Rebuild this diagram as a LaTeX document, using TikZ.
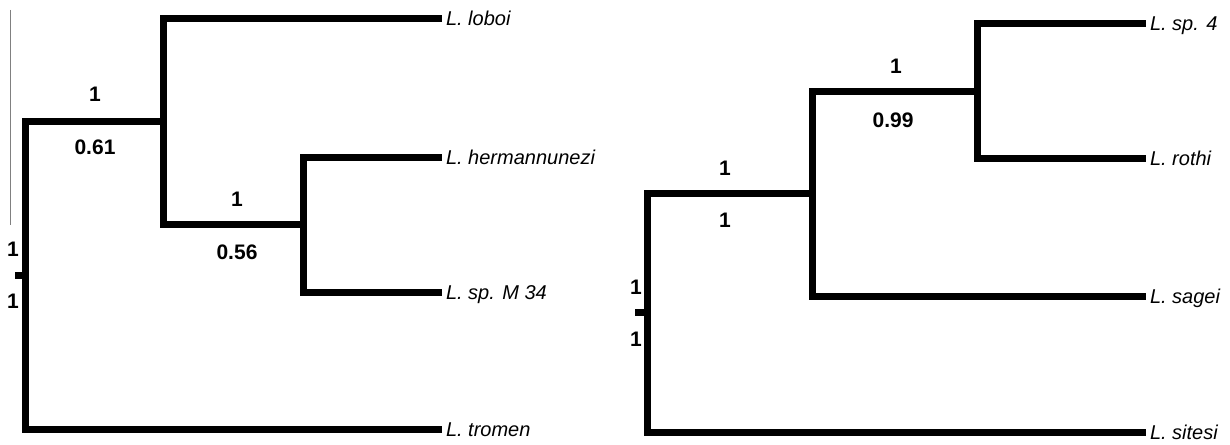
\documentclass[tikz,border=0pt]{standalone}
\usepackage{fontspec}
\setmainfont{Liberation Sans}
\begin{document}
\begin{tikzpicture}[x=1pt,y=-1pt,
  br/.style={line width=7pt,line join=miter,black},
  leaf/.style={anchor=west,inner sep=0pt,outer sep=4pt,text height=14pt,text depth=0pt,font=\fontsize{20}{22}\selectfont\itshape},
  sup/.style={inner sep=0pt,font=\fontsize{21}{23}\selectfont\bfseries}]
\useasboundingbox (0,0) rectangle (1230,444);
% thin gray line
\coordinate (g1) at (10,10);
\coordinate (g2) at (10,225);
\draw[gray,line width=1pt] (g1) -- (g2);
% ---------- left tree ----------
\node[leaf] (loboi) at (442,19) {L. loboi};
\node[leaf] (herm) at (442,157) {L. hermannunezi};
\node[leaf] (spm) at (442,292) {L. sp. M 34};
\node[leaf] (tromen) at (442,429) {L. tromen};
\coordinate (rootL) at (25,275);
\coordinate (stubL) at (15,275);
\coordinate (a) at (163,121);
\coordinate (b) at (303,224.5);
\draw[br] (stubL) -- (rootL);
\draw[br] (rootL) |- (a);
\draw[br] (rootL) |- (tromen.west);
\draw[br] (a) |- (loboi.west);
\draw[br] (a) |- (b);
\draw[br] (b) |- (herm.west);
\draw[br] (b) |- (spm.west);
\node[sup] (l1) at (13,249) {1};
\node[sup] (l2) at (13,301) {1};
\node[sup] (l3) at (95,94) {1};
\node[sup] (l4) at (95,147) {0.61};
\node[sup] (l5) at (237,199) {1};
\node[sup] (l6) at (237,252) {0.56};
% ---------- right tree ----------
\node[leaf] (sp4) at (1146,24) {L. sp. 4};
\node[leaf] (rothi) at (1146,158) {L. rothi};
\node[leaf] (sagei) at (1146,296) {L. sagei};
\node[leaf] (sitesi) at (1146,432) {L. sitesi};
\coordinate (rootR) at (647,312.5);
\coordinate (stubR) at (635,312.5);
\coordinate (c) at (977,91);
\coordinate (d) at (812,193);
\draw[br] (stubR) -- (rootR);
\draw[br] (rootR) |- (d);
\draw[br] (rootR) |- (sitesi.west);
\draw[br] (d) |- (c);
\draw[br] (d) |- (sagei.west);
\draw[br] (c) |- (sp4.west);
\draw[br] (c) |- (rothi.west);
\node[sup] (r1) at (636,287) {1};
\node[sup] (r2) at (636,339) {1};
\node[sup] (r3) at (725,168) {1};
\node[sup] (r4) at (725,220) {1};
\node[sup] (r5) at (896,66) {1};
\node[sup] (r6) at (893,120) {0.99};
\end{tikzpicture}
\end{document}
